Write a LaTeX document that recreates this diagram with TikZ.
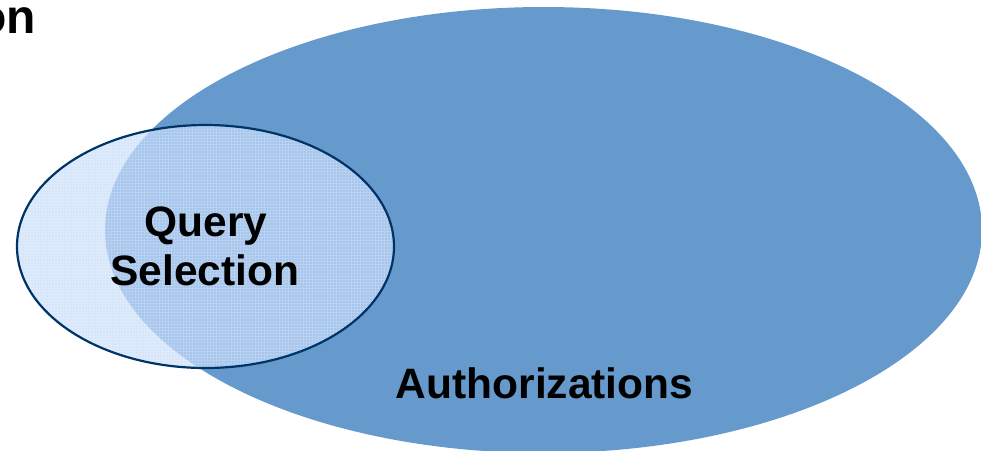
\documentclass[tikz,border=0pt]{standalone}
\usepackage{fontspec}
\setmainfont{Liberation Sans}
\definecolor{authblue}{RGB}{102,153,204}
\definecolor{qslight}{RGB}{214,230,250}
\definecolor{qsover}{RGB}{166,197,236}
\definecolor{qsline}{RGB}{0,51,102}
\begin{document}
\begin{tikzpicture}[x=1pt,y=-1pt,
  lbl/.style={font=\fontsize{42.5}{50}\selectfont\bfseries, text=black, inner sep=0pt},
  titlelbl/.style={font=\fontsize{48}{58}\selectfont\bfseries, text=black, inner sep=0pt},
  bigell/.style={x radius=438.5pt, y radius=223pt},
  smallell/.style={x radius=188.5pt, y radius=121.5pt}]
\useasboundingbox (0,0) rectangle (981,450);
\clip (0,0) rectangle (981,450);
% Authorizations ellipse
\fill[authblue] (543.5,230) ellipse [bigell];
% Query Selection ellipse (translucent look)
\fill[qslight] (205.5,246.5) ellipse [smallell];
\begin{scope}
  \clip (543.5,230) ellipse [bigell];
  \fill[qsover] (205.5,246.5) ellipse [smallell];
\end{scope}
\begin{scope}
  \clip (205.5,246.5) ellipse [smallell];
  \draw[white, opacity=0.22, line width=0.6pt, step=3pt] (12,120) grid (400,372);
\end{scope}
\draw[qsline, line width=2.2pt] (205.5,246.5) ellipse [smallell];
% texts
\node[titlelbl, anchor=base east] (title) at (36,33) {on};
\node[lbl, anchor=base] (query) at (206,236) {Query};
\node[lbl, anchor=base] (sel) at (205,285) {Selection};
\node[lbl, anchor=base] (auth) at (544.5,398) {Authorizations};
\end{tikzpicture}
\end{document}
